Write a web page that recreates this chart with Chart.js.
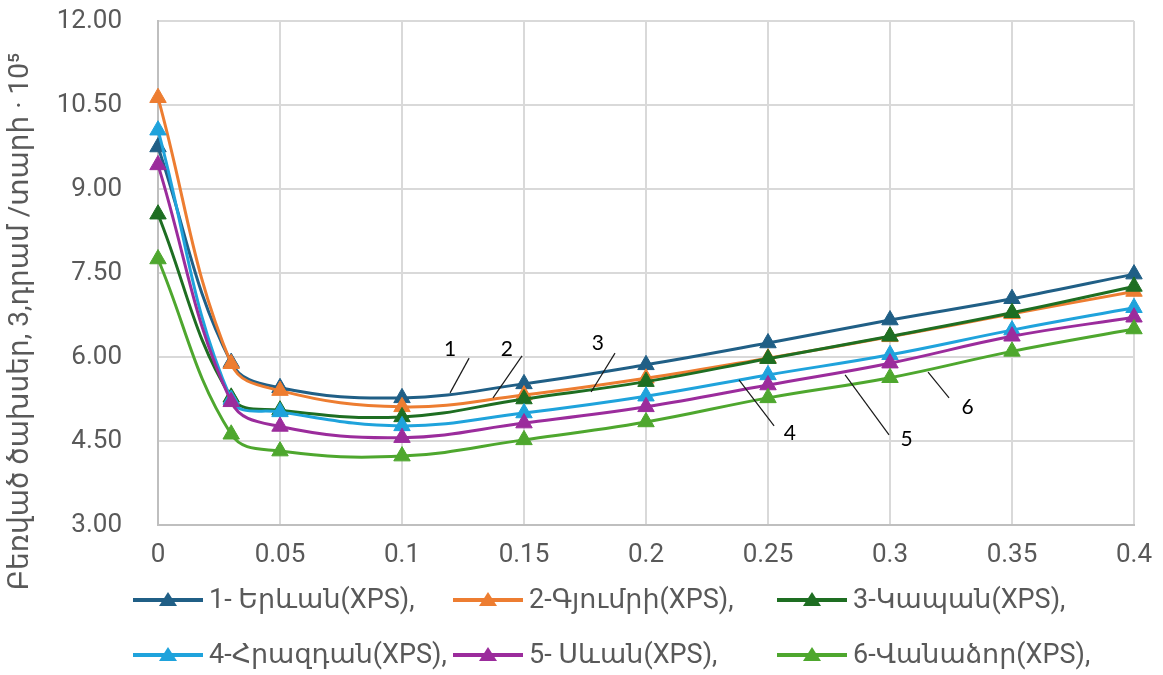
<!DOCTYPE html>
<html>
<head>
<meta charset="utf-8">
<script src="https://cdn.jsdelivr.net/npm/chart.js@4"></script>
<style>
  html, body { margin: 0; padding: 0; background: #fff; }
  #wrap { position: relative; width: 1163px; height: 675px; }
</style>
</head>
<body>
<div id="wrap"><canvas id="c" width="1163" height="675"></canvas></div>
<script>
// ---- data ----
const xValues = [0, 0.03, 0.05, 0.1, 0.15, 0.2, 0.25, 0.3, 0.35, 0.4];
const seriesNames = ["1- Երևան(XPS),", "2-Գյումրի(XPS),", "3-Կապան(XPS),", "4-Հրազդան(XPS),", "5- Սևան(XPS),", "6-Վանաձոր(XPS),"];
const yerevan  = [9.75, 5.90, 5.45, 5.27, 5.52, 5.86, 6.25, 6.66, 7.04, 7.48];
const gyumri   = [10.63, 5.88, 5.40, 5.11, 5.32, 5.62, 5.98, 6.36, 6.77, 7.17];
const kapan    = [8.55, 5.28, 5.05, 4.93, 5.25, 5.56, 5.97, 6.37, 6.79, 7.26];
const hrazdan  = [10.05, 5.24, 5.02, 4.77, 5.00, 5.30, 5.68, 6.04, 6.48, 6.88];
const sevan    = [9.43, 5.20, 4.76, 4.56, 4.82, 5.11, 5.50, 5.89, 6.37, 6.71];
const vanadzor = [7.75, 4.62, 4.32, 4.23, 4.52, 4.84, 5.27, 5.63, 6.10, 6.50];
const seriesValues = [yerevan, gyumri, kapan, hrazdan, sevan, vanadzor];
const seriesColors = ["#205f86", "#ed7d31", "#1e6e22", "#1fa3dc", "#9b2c9c", "#4ea72e"];
const yTicks = [3, 4.5, 6, 7.5, 9, 10.5, 12];
const xTicks = [0, 0.05, 0.1, 0.15, 0.2, 0.25, 0.3, 0.35, 0.4];
const yTitle = "Բեռված ծախսեր, 3,դրամ /տարի · 10⁵";
// curve labels: text, leader line start (on curve), leader line end, text anchor (data units)
const curveLabels = ["1", "2", "3", "4", "5", "6"];
const labelLineFromX = [0.1275, 0.1492, 0.1873, 0.2381, 0.2816, 0.3156];
const labelLineFromY = [5.98, 6.02, 6.07, 5.59, 5.68, 5.73];
const labelLineToX   = [0.1197, 0.1373, 0.1775, 0.2525, 0.2996, 0.3242];
const labelLineToY   = [5.36, 5.27, 5.375, 4.77, 4.61, 5.27];
const labelTextX     = [0.1197, 0.1430, 0.1803, 0.2590, 0.3068, 0.3318];
const labelTextY     = [6.13, 6.13, 6.25, 4.64, 4.54, 5.11];

const datasets = seriesNames.map((name, i) => ({
  label: name,
  data: xValues.map((x, j) => ({ x: x, y: seriesValues[i][j] })),
  borderColor: seriesColors[i],
  backgroundColor: seriesColors[i],
  pointBackgroundColor: seriesColors[i],
  pointBorderColor: seriesColors[i],
  pointStyle: 'triangle',
  pointRadius: 9.5,
  pointBorderWidth: 1,
  borderWidth: 3,
  tension: 0.4,
  clip: false,
  order: seriesNames.length - i
}));

const curveLabelPlugin = {
  id: 'curveLabels',
  afterDatasetsDraw(chart) {
    const ctx = chart.ctx, xs = chart.scales.x, ys = chart.scales.y;
    ctx.save();
    ctx.strokeStyle = '#1a1a1a';
    ctx.lineWidth = 1.2;
    ctx.fillStyle = '#000';
    ctx.font = '21px Lato, "Liberation Sans", sans-serif';
    ctx.textAlign = 'center';
    ctx.textBaseline = 'middle';
    curveLabels.forEach((t, i) => {
      ctx.beginPath();
      ctx.moveTo(xs.getPixelForValue(labelLineFromX[i]), ys.getPixelForValue(labelLineFromY[i]));
      ctx.lineTo(xs.getPixelForValue(labelLineToX[i]), ys.getPixelForValue(labelLineToY[i]));
      ctx.stroke();
      ctx.fillText(t, xs.getPixelForValue(labelTextX[i]), ys.getPixelForValue(labelTextY[i]));
    });
    ctx.restore();
  }
};

const legendPlugin = {
  id: 'gridLegend',
  afterDraw(chart) {
    const ctx = chart.ctx;
    const colX = [133, 453, 777];
    const rowY = [600, 655];
    ctx.save();
    chart.data.datasets.forEach((ds, i) => {
      const x0 = colX[i % 3], y = rowY[Math.floor(i / 3)];
      ctx.strokeStyle = ds.borderColor;
      ctx.lineWidth = 4;
      ctx.beginPath(); ctx.moveTo(x0, y); ctx.lineTo(x0 + 70, y); ctx.stroke();
      ctx.fillStyle = ds.borderColor;
      ctx.beginPath();
      ctx.moveTo(x0 + 35, y - 8);
      ctx.lineTo(x0 + 35 + 9, y + 6);
      ctx.lineTo(x0 + 35 - 9, y + 6);
      ctx.closePath(); ctx.fill();
      ctx.fillStyle = '#595959';
      ctx.font = '27px Roboto, "DejaVu Sans", sans-serif';
      ctx.textAlign = 'left';
      ctx.textBaseline = 'middle';
      ctx.fillText(ds.label, x0 + 76, y + 1);
    });
    ctx.restore();
  }
};

new Chart(document.getElementById('c'), {
  type: 'line',
  data: { datasets: datasets },
  options: {
    responsive: false,
    animation: false,
    events: [],
    layout: { padding: { left: 0, top: 21, right: 29, bottom: 105 } },
    plugins: { legend: { display: false }, tooltip: { enabled: false } },
    scales: {
      x: {
        type: 'linear', min: 0, max: 0.4,
        afterBuildTicks(s) { s.ticks = xTicks.map(v => ({ value: v })); },
        afterFit(s) { s.height = 45; s.paddingLeft = 0; s.paddingRight = 0; },
        grid: { color: '#d9d9d9', lineWidth: 2, drawTicks: false },
        border: { color: '#bfbfbf', width: 2 },
        ticks: {
          padding: 15, color: '#595959',
          font: { family: 'Roboto', size: 26 },
          callback: v => String(Number(v.toFixed(2)))
        }
      },
      y: {
        min: 3, max: 12,
        afterBuildTicks(s) { s.ticks = yTicks.map(v => ({ value: v })); },
        afterFit(s) { s.width = 158; s.paddingTop = 0; s.paddingBottom = 0; },
        grid: { color: '#d9d9d9', lineWidth: 2, drawTicks: false },
        border: { color: '#bfbfbf', width: 2 },
        ticks: {
          padding: 36, color: '#595959',
          font: { family: 'Roboto', size: 26 },
          callback: v => Number(v).toFixed(2)
        },
        title: {
          display: true, text: yTitle + '\u00A0'.repeat(14), color: '#595959',
          font: { family: 'Roboto, "DejaVu Sans", sans-serif', size: 28 },
          padding: { top: 4, bottom: 0 }
        }
      }
    }
  },
  plugins: [curveLabelPlugin, legendPlugin]
});
</script>
</body>
</html>
